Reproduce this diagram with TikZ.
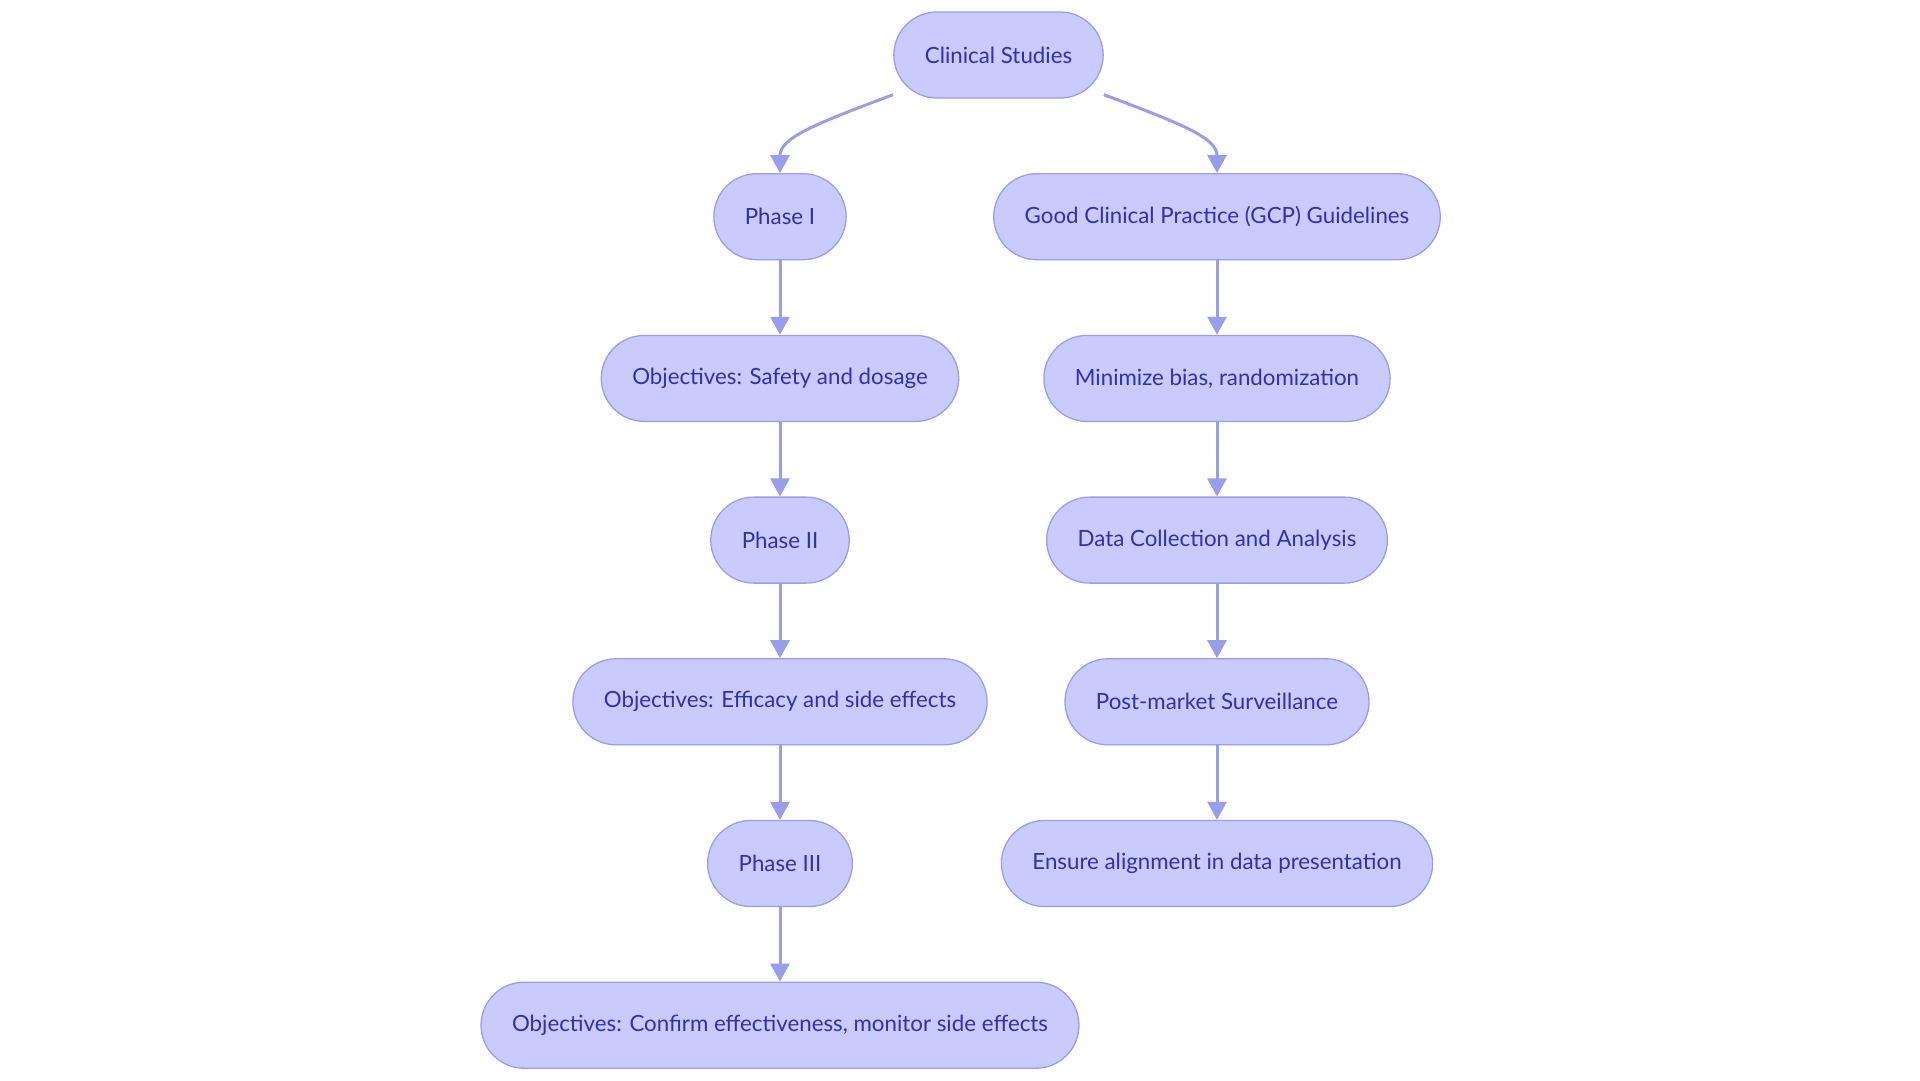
\documentclass[tikz,border=0pt]{standalone}
\usepackage{fontspec}
\setmainfont{Lato}
\usetikzlibrary{arrows.meta,positioning}
\definecolor{boxfill}{HTML}{C9CBFC}
\definecolor{boxline}{HTML}{9A9EEA}
\definecolor{txt}{HTML}{2F30B2}
\definecolor{edge}{HTML}{9A9EEA}
\newcommand{\flow}[4]{%
  \foreach \t [count=\i] in {#4}{%
    \node[draw=boxline,line width=1.3pt,fill=boxfill,rounded corners=43pt,
          minimum height=86pt,inner xsep=31pt,text=txt,
          font=\fontsize{22.3}{26}\selectfont] (#1\i) at (#2,{55+\i*161.7}) {\t};}
  \foreach \i in {2,...,#3}{%
    \pgfmathtruncatemacro{\j}{\i-1}
    \draw[-{Triangle[length=18pt,width=19pt]},edge,line width=3pt]
          (#1\j.south) -- (#1\i.north);}}
\begin{document}
\begin{tikzpicture}[x=1pt,y=-1pt]
  \useasboundingbox (0,0) rectangle (1920,1080);
  \node[draw=boxline,line width=1.3pt,fill=boxfill,rounded corners=43pt,
        minimum height=86pt,inner xsep=31pt,text=txt,
        font=\fontsize{22.3}{26}\selectfont] (top) at (998.5,55) {Clinical Studies};
  \flow{ph}{780}{6}{Phase I,Objectives: Safety and dosage,Phase II,
    Objectives: Efficacy and side effects,Phase III,
    {Objectives: Confirm effectiveness, monitor side effects}}
  \flow{gcp}{1217}{5}{Good Clinical Practice (GCP) Guidelines,
    {Minimize bias, randomization},Data Collection and Analysis,
    Post-market Surveillance,Ensure alignment in data presentation}
  % branches from the top
  \draw[-{Triangle[length=18pt,width=19pt]},edge,line width=3pt]
        ([yshift=4pt]top.south west) .. controls +(-80,30) and +(0,-35) .. (ph1.north);
  \draw[-{Triangle[length=18pt,width=19pt]},edge,line width=3pt]
        ([yshift=4pt]top.south east) .. controls +(80,30) and +(0,-35) .. (gcp1.north);
\end{tikzpicture}
\end{document}
